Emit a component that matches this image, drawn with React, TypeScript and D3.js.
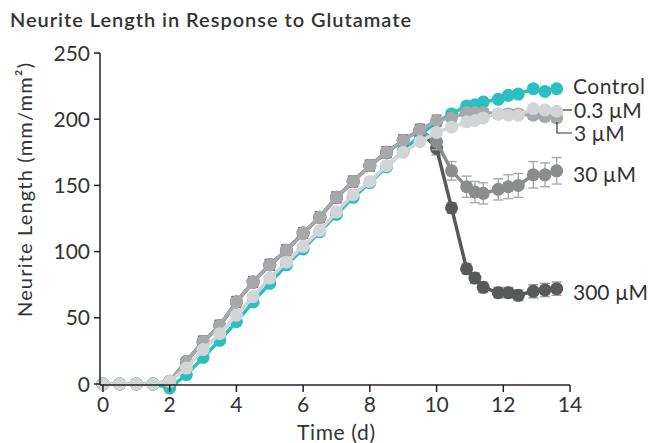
import React from "react";
import * as d3 from "d3";

const times = [0, 0.5, 1, 1.5, 2, 2.5, 3, 3.5, 4, 4.5, 5, 5.5, 6, 6.5, 7, 7.5, 8, 8.5, 9, 9.5, 10,
  10.45, 10.9, 11.15, 11.4, 11.85, 12.15, 12.45, 12.9, 13.25, 13.6];

const control = [0, 0, 0, 0, -3, 7, 20, 33, 47, 62, 76, 90, 102, 115, 128, 141, 152, 164, 176, 188, 198,
  204, 210, 211, 213, 215, 218, 219, 223, 221, 223];
const um03 = [0, 0, 0, 0, 2, 12, 26, 38, 52, 66, 80, 92, 104, 116, 130, 143, 153, 165, 175, 183, 190,
  194, 198, 199, 201, 204, 203, 203, 208, 207, 206];
const um3 = [0, 0, 0, 0, 2, 17, 32, 44, 62, 77, 90, 101, 114, 126, 141, 153, 165, 175, 184, 192, 199,
  201, 205, 205, 205, 204, 204, 204, 203, 202, 201];
const um30 = [0, 0, 0, 0, 2, 17, 32, 44, 62, 77, 90, 101, 114, 126, 141, 153, 165, 175, 184, 192, 183,
  161, 149, 145, 144, 147, 149, 150, 158, 158, 161];
const um300 = [0, 0, 0, 0, 2, 17, 32, 44, 62, 77, 90, 101, 114, 126, 141, 153, 165, 175, 184, 192, 178,
  133, 87, 80, 73, 69, 69, 67, 70, 71, 72];

const err3 = [0, 0, 0, 0, 1, 3, 4, 4, 4, 4, 4, 4, 4, 4, 4, 4, 4, 4, 4, 4, 4,
  3, 3, 3, 3, 3, 3, 3, 3, 3, 3];
const err30 = [0, 0, 0, 0, 1, 3, 4, 4, 4, 4, 4, 4, 4, 4, 4, 4, 4, 4, 4, 4, 6,
  7, 8, 8, 8, 8, 9, 9, 10, 9, 10];
const err300 = [0, 0, 0, 0, 1, 3, 4, 4, 4, 4, 4, 4, 4, 4, 4, 4, 4, 4, 4, 4, 5,
  4, 4, 4, 4, 4, 4, 4, 5, 5, 5];

const xTicks = [0, 2, 4, 6, 8, 10, 12, 14];
const yTicks = [0, 50, 100, 150, 200, 250];

const title = "Neurite Length in Response to Glutamate";
const xLabel = "Time (d)";
const yLabel = "Neurite Length (mm/mm²)";

type Series = { name: string; values: number[]; err?: number[]; color: string; errColor: string };

const seriesList: Series[] = [
  { name: "300 µM", values: um300, err: err300, color: "#58595b", errColor: "#9a9b9d" },
  { name: "30 µM", values: um30, err: err30, color: "#8b8c8e", errColor: "#a9aaac" },
  { name: "Control", values: control, color: "#2bbfbf", errColor: "#2bbfbf" },
  { name: "3 µM", values: um3, err: err3, color: "#a6a8ab", errColor: "#6d6e70" },
  { name: "0.3 µM", values: um03, color: "#d3d4d6", errColor: "#d3d4d6" },
];

const FONT = "Lato, 'Open Sans', sans-serif";

export default function App() {
  const W = 648, H = 443;
  const x = d3.scaleLinear().domain([0, 14]).range([103, 570]);
  const y = d3.scaleLinear().domain([0, 250]).range([384, 53]);
  const line = d3.line<number>().x((_, i) => x(times[i])).y((v) => y(v));
  const r = 6.5;
  const axisColor = "#231f20";
  const textColor = "#333";

  return (
    <svg width={W} height={H} style={{ position: "absolute", left: 0, top: 0, background: "#fff" }}>
      <text x={10} y={27} fontFamily={FONT} fontSize={20} fontWeight={600} fill={textColor}
        textLength={401} lengthAdjust="spacing">{title}</text>

      {/* series */}
      {seriesList.map((s) => (
        <g key={s.name}>
          {s.err && s.values.map((v, i) => s.err![i] > 0 ? (
            <g key={i} stroke={s.errColor} strokeWidth={1.4}>
              <line x1={x(times[i])} x2={x(times[i])} y1={y(v - s.err![i])} y2={y(v + s.err![i])} />
              <line x1={x(times[i]) - 5} x2={x(times[i]) + 5} y1={y(v - s.err![i])} y2={y(v - s.err![i])} />
              <line x1={x(times[i]) - 5} x2={x(times[i]) + 5} y1={y(v + s.err![i])} y2={y(v + s.err![i])} />
            </g>
          ) : null)}
          <path d={line(s.values) || ""} fill="none" stroke={s.color} strokeWidth={3.5} />
          {s.values.map((v, i) => (
            <circle key={i} cx={x(times[i])} cy={y(v)} r={r} fill={s.color} />
          ))}
        </g>
      ))}

      {/* axes */}
      <g stroke={axisColor} strokeWidth={1.5} fill="none">
        <line x1={100} x2={100} y1={y(250)} y2={385} />
        <line x1={100} x2={570} y1={385} y2={385} />
        {yTicks.map((t) => (
          <line key={t} x1={94} x2={100} y1={y(t)} y2={y(t)} />
        ))}
        {xTicks.map((t) => (
          <line key={t} x1={x(t)} x2={x(t)} y1={385} y2={392} />
        ))}
      </g>
      {yTicks.map((t) => (
        <text key={t} x={90} y={y(t)} dy="0.36em" textAnchor="end" fontFamily={FONT} fontSize={21} fill={textColor}>{t}</text>
      ))}
      {xTicks.map((t) => (
        <text key={t} x={x(t)} y={412} textAnchor="middle" fontFamily={FONT} fontSize={21} fill={textColor}>{t}</text>
      ))}
      <text x={336} y={440} textAnchor="middle" fontFamily={FONT} fontSize={21} fill={textColor}
        textLength={78} lengthAdjust="spacing">{xLabel}</text>
      <text transform={`translate(32,${190}) rotate(-90)`} textAnchor="middle" fontFamily={FONT} fontSize={20} fill={textColor}
        textLength={254} lengthAdjust="spacing">{yLabel}</text>

      {/* legend labels */}
      <g fontFamily={FONT} fontSize={21} fill={textColor}>
        <text x={573} y={86} dy="0.36em" textLength={72} lengthAdjust="spacing">Control</text>
        <text x={574} y={110} dy="0.36em">0.3 µM</text>
        <text x={574} y={133} dy="0.36em">3 µM</text>
        <text x={573} y={174} dy="0.36em">30 µM</text>
        <text x={573} y={292} dy="0.36em">300 µM</text>
      </g>
      <g stroke="#333" strokeWidth={1.2} fill="none">
        <line x1={563} x2={572} y1={110} y2={110} />
        <polyline points="557,122 557,133 572,133" />
      </g>
    </svg>
  );
}
